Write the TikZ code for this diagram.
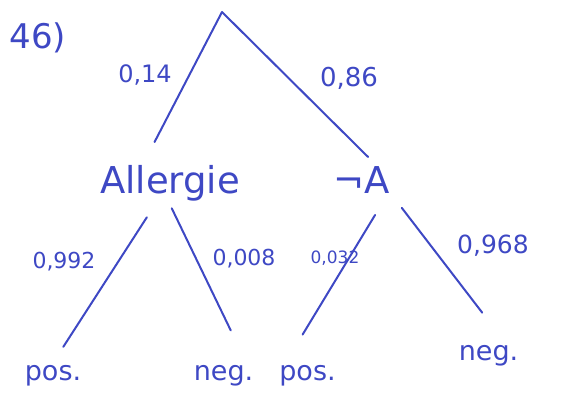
\documentclass[tikz,border=0pt]{standalone}
\usepackage{fontspec}
\setmainfont{DejaVu Sans}
\usetikzlibrary{positioning}
\definecolor{penblue}{RGB}{62,72,196}

\begin{document}
\begin{tikzpicture}[
      x=1pt, y=-1pt,
      every node/.style={text=penblue},
      cond/.style={inner sep=2pt, text height=28pt, text depth=9pt, font=\fontsize{37}{40}\selectfont},
      leaf/.style={inner sep=2pt, text height=15pt, text depth=6pt, font=\fontsize{27}{30}\selectfont},
      prob/.style={inner sep=1pt, font=\fontsize{22}{24}\selectfont},
      branch/.style={draw=penblue, line width=2pt, line cap=round},
    ]
    \useasboundingbox (0,0) rectangle (561,412);
    \node[font=\fontsize{34}{36}\selectfont] (task) at (38,38) {46)};

    \coordinate (root) at (222,12);
    \node[cond] (allergie) at (170,184) {Allergie};
    \node[cond, minimum width=80pt] (nicht) at (362,184) {¬A};

    \node[leaf] (pos1) at (53,375.5) {pos.};
    \node[leaf] (neg1) at (223.5,375.5) {neg.};
    \node[leaf] (pos2) at (307.5,375.5) {pos.};
    \node[leaf] (neg2) at (488.5,355.5) {neg.};

    \node[prob, font=\fontsize{24}{26}\selectfont] (p14) at (145,75) {0,14};
    \node[prob, font=\fontsize{26}{28}\selectfont] (p86) at (349,78) {0,86};
    \node[prob] (p992) at (64,262) {0,992};
    \node[prob] (p008) at (244,259) {0,008};
    \node[prob, font=\fontsize{17}{19}\selectfont] (p032) at (335,258) {0,032};
    \node[prob, font=\fontsize{25}{27}\selectfont] (p968) at (493,246) {0,968};

    \draw[branch, shorten >=24pt] (root) -- (allergie.142);
    \draw[branch, shorten >=9pt] (root) -- (nicht.59);
    \draw[branch, shorten <=15pt, shorten >=19pt] (allergie.234) -- (pos1.north);
    \draw[branch, shorten <=4pt, shorten >=36pt] (allergie.south) -- (neg1.29);
    \draw[branch, shorten <=12pt, shorten >=33pt] (nicht.313) -- (pos2.150);
    \draw[branch, shorten <=4pt, shorten >=38pt] (nicht.331) -- (neg2.37);
  \end{tikzpicture}
\end{document}
